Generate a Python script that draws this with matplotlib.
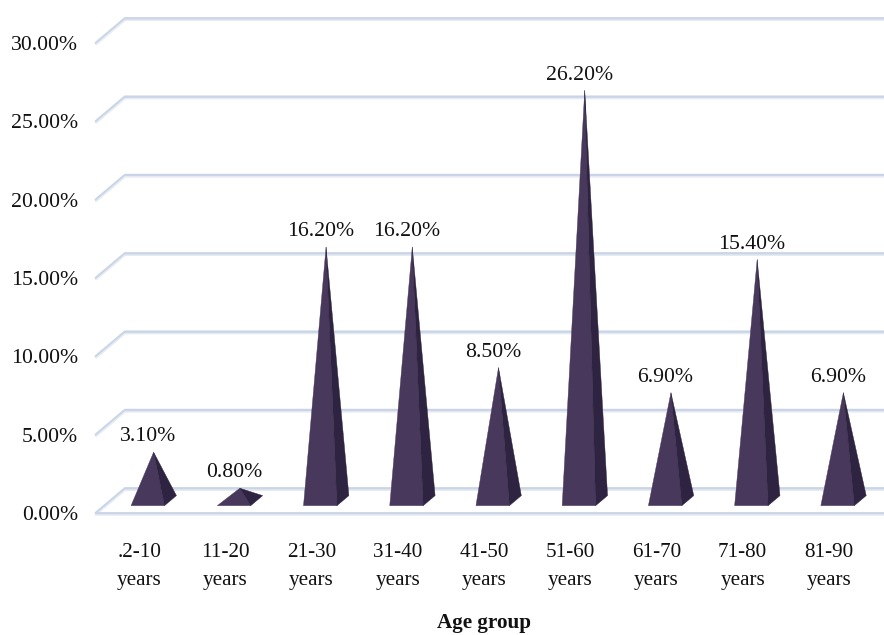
import matplotlib
matplotlib.use("Agg")
import matplotlib.pyplot as plt
from matplotlib.patches import Polygon

categories = [".2-10\nyears", "11-20\nyears", "21-30\nyears", "31-40\nyears", "41-50\nyears",
              "51-60\nyears", "61-70\nyears", "71-80\nyears", "81-90\nyears"]
values = [3.1, 0.8, 16.2, 16.2, 8.5, 26.2, 6.9, 15.4, 6.9]
labels = ["3.10%", "0.80%", "16.20%", "16.20%", "8.50%", "26.20%", "6.90%", "15.40%", "6.90%"]
yticks = [0, 5, 10, 15, 20, 25, 30]
ytick_labels = ["0.00%", "5.00%", "10.00%", "15.00%", "20.00%", "25.00%", "30.00%"]

W, H = 884, 635
plt.rcParams["font.family"] = ["Liberation Serif", "DejaVu Serif"]
fig = plt.figure(figsize=(W / 100, H / 100), dpi=100)
ax = fig.add_axes([96 / W, (H - 513) / H, 776 / W, 470 / H])
ax.set_xlim(-0.5, 8.5)
ax.set_ylim(0, 30)
for s in ax.spines.values():
    s.set_visible(False)

DX = 29 / 86.2    # full wall depth, in category units
DY = 24.5 / 15.67  # full wall depth, in percent units
HW = 0.194


def P(x, y, d):
    return (x + DX * d, y + DY * d)


for v in yticks:
    for col, lw, off in [("#c9d5e6", 2.0, 0.0), ("#e6ebf3", 1.1, -0.11)]:
        xs = [-0.5, -0.5 + DX, 9.0]
        ys = [v + off, v + DY + off, v + DY + off]
        ax.plot(xs, ys, color=col, lw=lw, clip_on=False, zorder=1, solid_capstyle="round")
for col, lw, off in [("#c9d5e6", 2.0, 0.0), ("#e6ebf3", 1.1, -0.11)]:
    ax.plot([-0.5, 9.0], [off, off], color=col, lw=lw, clip_on=False, zorder=1)

for i, v in enumerate(values):
    fl = P(i - HW, 0, 0.30)
    fr = P(i + HW, 0, 0.30)
    br = P(i + HW, 0, 0.71)
    apex = P(i, v, 0.50)
    ax.add_patch(Polygon([fl, fr, apex], closed=True, fc="#47385c", ec="#47385c", lw=0.3, zorder=3))
    ax.add_patch(Polygon([fr, br, apex], closed=True, fc="#2e2340", ec="#2e2340", lw=0.3, zorder=3))
    ax.annotate(labels[i], xy=apex, xytext=(-4, 11), textcoords="offset points",
                ha="center", va="center", fontsize=15.7, color="#111111", zorder=4)

ax.set_yticks(yticks, ytick_labels, fontsize=15.7, color="#111111")
ax.set_xticks(range(len(categories)), categories, fontsize=15.2, color="#111111", linespacing=1.62)
ax.tick_params(axis="both", length=0)
ax.tick_params(axis="y", pad=13)
ax.tick_params(axis="x", pad=21.5)
ax.set_xlabel("Age group", fontsize=15.2, fontweight="bold", color="#111111", labelpad=17)

fig.savefig("out.png", dpi=100)
